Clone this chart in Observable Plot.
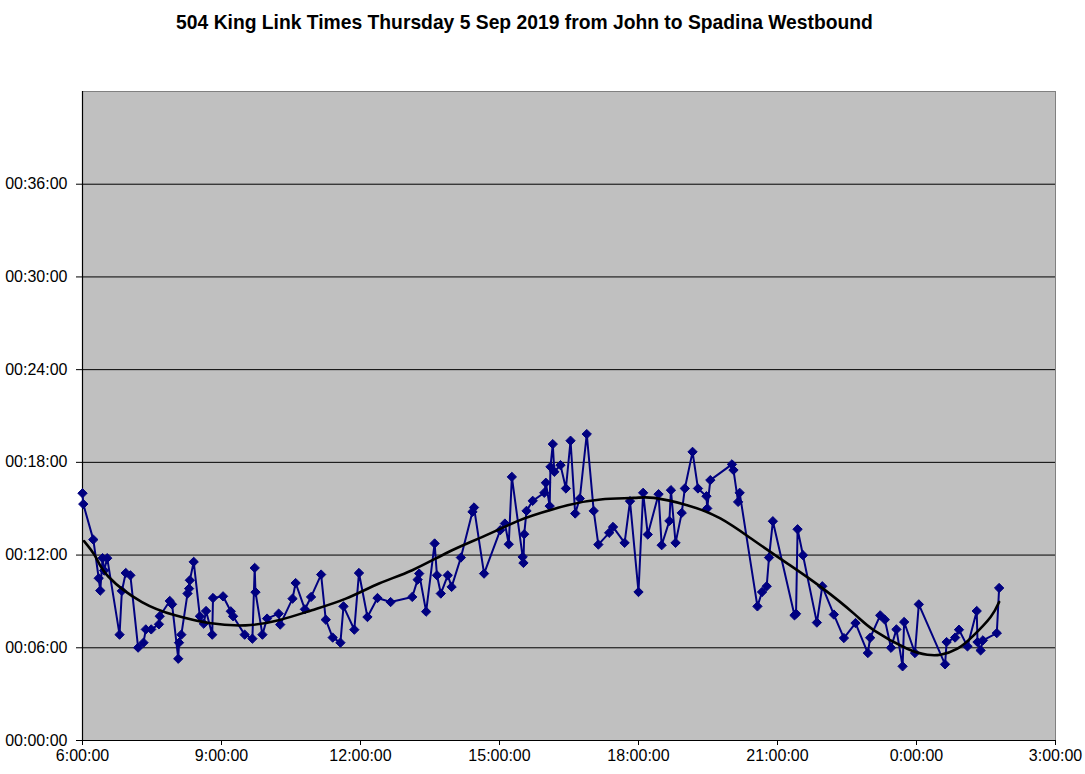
<!DOCTYPE html>
<html><head><meta charset="utf-8">
<script src="https://cdn.jsdelivr.net/npm/d3@7"></script>
<script src="https://cdn.jsdelivr.net/npm/@observablehq/plot@0.6"></script>
<style>body{margin:0;background:#fff;} svg{display:block}</style>
</head><body><div id="chart"></div>
<script>
const chartTitle = "504 King Link Times Thursday 5 Sep 2019 from John to Spadina Westbound";

// Departure times (hh:mm) and link times (minutes)
const linkTimes = [
"6:00","6:01","6:14","6:21","6:23","6:26","6:28","6:32","6:48","6:51","6:56","7:02","7:12","7:19","7:22","7:29","7:39","7:40","7:53","7:56",
"8:04","8:05","8:08","8:16","8:18","8:19","8:24","8:32","8:37","8:40","8:48","8:49","9:02","9:12","9:15","9:30","9:40","9:43","9:44","9:53",
"9:59","10:14","10:16","10:32","10:36","10:48","10:56","11:09","11:15","11:24","11:34","11:38","11:52","11:58","12:09","12:22","12:39","13:07","13:14","13:16",
"13:25","13:36","13:39","13:44","13:53","13:58","14:10","14:25","14:27","14:40","15:01","15:07","15:12","15:16","15:30","15:31","15:32","15:35","15:43","15:58",
"16:00","16:05","16:06","16:09","16:11","16:19","16:26","16:32","16:38","16:44","16:53","17:02","17:08","17:22","17:27","17:42","17:49","18:00","18:06","18:12",
"18:26","18:30","18:40","18:42","18:48","18:56","19:00","19:10","19:17","19:28","19:29","19:33","20:01","20:03","20:09","20:11","20:34","20:40","20:46","20:49",
"20:54","21:22","21:24","21:26","21:33","21:51","21:58","22:13","22:26","22:41","22:57","23:00","23:13","23:19","23:27","23:34","23:42","23:44","23:58","0:03",
"0:37","0:39","0:50","0:55","1:06","1:18","1:19","1:23","1:26","1:44","1:47"
];
const linkMinutes = [
16.0,15.3,13.0,10.5,9.7,11.8,11.0,11.8,6.85,9.68,10.84,10.69,6.01,6.33,7.19,7.19,7.52,8.04,9.03,8.81,
5.29,6.33,6.85,9.51,9.83,10.37,11.56,8.04,7.56,8.38,6.85,9.22,9.33,8.36,8.04,6.85,6.59,11.17,9.6,6.85,
7.89,8.21,7.5,9.18,10.19,8.49,9.29,10.74,7.82,6.66,6.33,8.68,7.17,10.84,7.99,9.22,8.96,9.29,10.41,10.8,
8.34,12.75,10.69,9.51,10.69,9.94,11.84,14.8,15.08,10.8,13.61,14.04,12.7,17.06,11.88,11.49,13.35,14.86,15.51,16.03,
16.68,15.17,17.71,19.18,17.39,17.82,16.31,19.4,14.69,15.66,19.83,14.86,12.68,13.44,13.82,12.79,15.49,9.61,16.03,13.33,
15.94,12.64,14.21,16.2,12.79,14.73,16.31,18.68,16.31,15.81,15.02,16.85,17.87,17.5,15.44,16.03,8.68,9.61,9.98,11.84,
14.19,8.1,8.2,13.67,11.99,7.63,9.98,8.15,6.63,7.6,5.66,6.65,8.1,7.82,6.0,7.19,4.8,7.67,5.66,8.81,
4.93,6.37,6.66,7.17,6.09,8.38,6.37,5.83,6.48,6.95,9.87
];

// Trend line
const trendTimes = ["6:02","6:17","6:34","7:17","8:00","8:44","9:31","10:14","10:57","11:41","12:24","13:07","13:54","14:38","15:21","15:44","16:28","17:11","17:54","18:20","19:03","19:46","20:29","21:13","21:56","22:39","23:05","23:48","0:14","0:31","0:53","1:14","1:36","1:47"];
const trendMinutes = [12.9,11.88,10.58,8.96,8.1,7.6,7.45,7.78,8.43,9.18,10.16,11.02,12.2,13.18,14.15,14.58,15.23,15.6,15.7,15.7,15.23,14.37,12.96,11.45,9.94,8.21,7.13,5.94,5.55,5.55,5.94,6.8,7.99,8.96];

const xTicks = [6,9,12,15,18,21,24,27];
const yTicks = [0,6,12,18,24,30,36];

function toHours(s){const [h,m]=s.split(":").map(Number); return (h<6?h+24:h)+m/60;}
const pts = linkTimes.map((t,i)=>({x:toHours(t), y:linkMinutes[i]}));
const trend = trendTimes.map((t,i)=>({x:toHours(t), y:trendMinutes[i]}));
const fmtX = h => (h%24)+":00:00";
const fmtY = m => "00:"+String(m).padStart(2,"0")+":00";

const chart = Plot.plot({
  width:1085, height:774,
  marginTop:91, marginLeft:82, marginRight:30, marginBottom:34,
  style:{fontFamily:"'Liberation Sans', Arial, sans-serif", fontSize:"16px", background:"#fff", color:"#000"},
  x:{domain:[6,27], label:null},
  y:{domain:[0,42], label:null},
  marks:[
    Plot.frame({fill:"#c0c0c0", stroke:"#808080"}),
    Plot.ruleY(yTicks.filter(d=>d>0), {stroke:"#000", strokeWidth:1}),
    Plot.axisX({ticks:xTicks, tickFormat:fmtX, tickSize:5, tickPadding:4, fontSize:16, stroke:"#000"}),
    Plot.axisY({ticks:yTicks, tickFormat:fmtY, tickSize:6, tickPadding:9, fontSize:16, stroke:"#000"}),
    Plot.ruleX([6], {stroke:"#000", strokeWidth:1.2}),
    Plot.ruleY([0], {stroke:"#000", strokeWidth:1.2}),
    Plot.line(pts, {x:"x", y:"y", stroke:"#000080", strokeWidth:2}),
    Plot.dot(pts, {x:"x", y:"y", symbol:"diamond2", fill:"#000080", stroke:"#000080", strokeWidth:1, r:4.2}),
    Plot.line(trend, {x:"x", y:"y", stroke:"#000", strokeWidth:2.6, curve:"natural"}),
    Plot.text([chartTitle], {frameAnchor:"top-left", lineAnchor:"middle", dx:442, dy:-69, text:d=>d, textAnchor:"middle", fontWeight:"bold", fontSize:19.3, fill:"#000"})
  ]
});
document.getElementById("chart").appendChild(chart);
</script>
</body></html>
